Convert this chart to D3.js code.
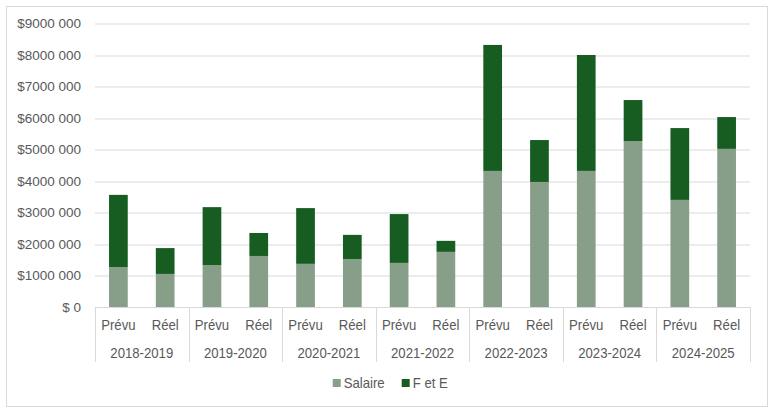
<!DOCTYPE html>
<html>
<head>
<meta charset="utf-8">
<script src="https://cdn.jsdelivr.net/npm/d3@7"></script>
<style>
  body { margin: 0; background: #fff; }
  svg { display: block; }
</style>
</head>
<body>
<div id="chart"></div>
<script>
// data
var years = ["2018-2019", "2019-2020", "2020-2021", "2021-2022", "2022-2023", "2023-2024", "2024-2025"];
var kinds = ["Prévu", "Réel"];
var series = ["Salaire", "F et E"];
// one value per (year, kind), in order Prévu, Réel
var salaire = [1270000, 1050000, 1330000, 1620000, 1370000, 1520000, 1400000, 1750000,
               4320000, 3970000, 4320000, 5270000, 3400000, 5020000];
var fetE = [2290000, 820000, 1840000, 730000, 1770000, 770000, 1550000, 350000,
            4000000, 1330000, 3680000, 1300000, 2280000, 1010000];
var yTicks = [0, 1000000, 2000000, 3000000, 4000000, 5000000, 6000000, 7000000, 8000000, 9000000];
var yTickLabels = ["$ 0", "$1000 000", "$2000 000", "$3000 000", "$4000 000",
                   "$5000 000", "$6000 000", "$7000 000", "$8000 000", "$9000 000"];
var colors = ["#879f88", "#175d21"];

var width = 775, height = 416;
var margin = { top: 23.5, right: 25, bottom: 109, left: 95 };
var plotW = width - margin.left - margin.right;
var plotH = height - margin.top - margin.bottom;

var svg = d3.select("#chart").append("svg")
    .attr("width", width)
    .attr("height", height);

// chart frame
svg.append("rect")
    .attr("x", 6.5).attr("y", 6.5)
    .attr("width", 761).attr("height", 400)
    .attr("fill", "#fff")
    .attr("stroke", "#d9d9d9");

var g = svg.append("g")
    .attr("transform", "translate(" + margin.left + "," + margin.top + ")");

var x0 = d3.scaleBand().domain(years).range([0, plotW]).padding(0);
var x1 = d3.scaleBand().domain(kinds).range([0, x0.bandwidth()])
    .paddingInner(0.6).paddingOuter(0.3);
var y = d3.scaleLinear().domain([0, 9000000]).range([plotH, 0]);

// gridlines
g.selectAll(".grid").data(yTicks.slice(1)).enter().append("line")
    .attr("x1", 0).attr("x2", plotW)
    .attr("y1", function (d) { return Math.round(y(d)) + 0.5; })
    .attr("y2", function (d) { return Math.round(y(d)) + 0.5; })
    .attr("stroke", "#d9d9d9")
    .attr("stroke-width", 1);

// y labels
g.selectAll(".ylab").data(yTicks).enter().append("text")
    .attr("x", -14)
    .attr("y", function (d) { return y(d); })
    .attr("dy", "0.35em")
    .attr("text-anchor", "end")
    .attr("font-family", "Liberation Sans, Arial, sans-serif")
    .attr("font-size", 13.5)
    .attr("fill", "#595959")
    .text(function (d, i) { return yTickLabels[i]; });

// build rows for stacking
var rows = [];
years.forEach(function (yr, i) {
    kinds.forEach(function (k, j) {
        var idx = i * 2 + j;
        rows.push({ year: yr, kind: k, "Salaire": salaire[idx], "F et E": fetE[idx] });
    });
});

var stacked = d3.stack().keys(series)(rows);

var layers = g.selectAll(".layer").data(stacked).enter().append("g")
    .attr("fill", function (d, i) { return colors[i]; });

layers.selectAll("rect")
    .data(function (d) { return d; })
    .enter().append("rect")
    .attr("x", function (d) { return x0(d.data.year) + x1(d.data.kind); })
    .attr("width", x1.bandwidth())
    .attr("y", function (d) { return y(d[1]); })
    .attr("height", function (d) { return y(d[0]) - y(d[1]); });

// x axis line
g.append("line")
    .attr("x1", 0).attr("x2", plotW)
    .attr("y1", plotH + 0.5).attr("y2", plotH + 0.5)
    .attr("stroke", "#d9d9d9");

// group separators
var bounds = years.map(function (d) { return x0(d); }).concat([plotW]);
g.selectAll(".sep").data(bounds).enter().append("line")
    .attr("x1", function (d) { return Math.round(d) + 0.5; })
    .attr("x2", function (d) { return Math.round(d) + 0.5; })
    .attr("y1", plotH).attr("y2", plotH + 55)
    .attr("stroke", "#d9d9d9");

// slightly narrow text: squeeze a regular font a little
function narrowText(parent, x, yy, str, anchor) {
    parent.append("g")
        .attr("transform", "translate(" + x + "," + yy + ") scale(0.94,1)")
        .append("text")
        .attr("dy", "0.35em")
        .attr("text-anchor", anchor)
        .attr("font-family", "Liberation Sans, Arial, sans-serif")
        .attr("font-size", 14)
        .attr("fill", "#595959")
        .text(str);
}

// kind labels
years.forEach(function (yr) {
    kinds.forEach(function (k) {
        narrowText(g, x0(yr) + x1(k) + x1.bandwidth() / 2, plotH + 18, k, "middle");
    });
});

// year labels
years.forEach(function (yr) {
    narrowText(g, x0(yr) + x0.bandwidth() / 2, plotH + 46, yr, "middle");
});

// legend
var legend = svg.append("g").attr("transform", "translate(0,383)");
var legX = [332.7, 401.7];
series.forEach(function (s, i) {
    legend.append("rect")
        .attr("x", legX[i]).attr("y", -4)
        .attr("width", 8).attr("height", 8)
        .attr("fill", colors[i]);
    narrowText(legend, legX[i] + 11, 0, s, "start");
});
</script>
</body>
</html>
